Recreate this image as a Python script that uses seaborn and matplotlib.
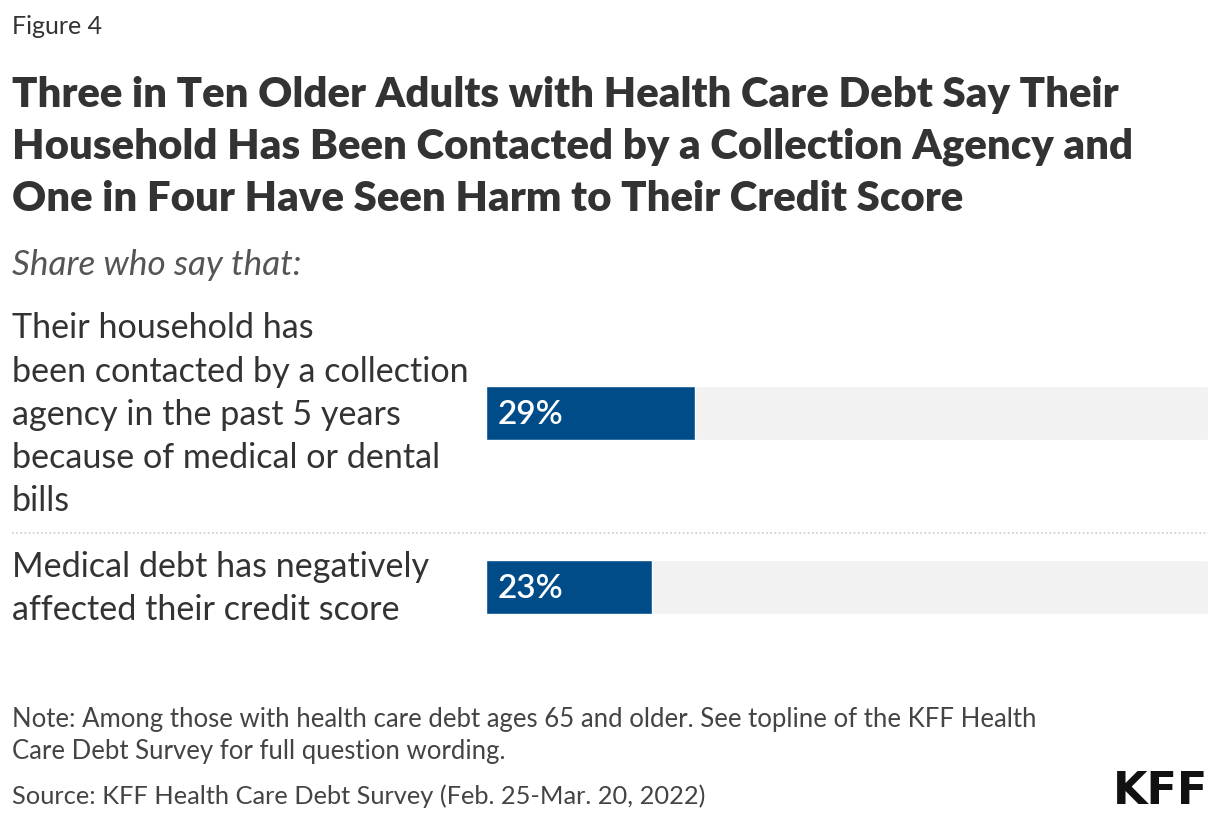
import matplotlib
matplotlib.use("Agg")
import matplotlib.pyplot as plt
import matplotlib.transforms as mtransforms
import pandas as pd
import seaborn as sns

# data
categories = [
    "Their household has\nbeen contacted by a collection\nagency in the past 5 years\nbecause of medical or dental\nbills",
    "Medical debt has negatively\naffected their credit score",
]
values = [29, 23]
value_labels = ["29%", "23%"]

title = ("Three in Ten Older Adults with Health Care Debt Say Their\n"
         "Household Has Been Contacted by a Collection Agency and\n"
         "One in Four Have Seen Harm to Their Credit Score")
subtitle = "Share who say that:"
note = ("Note: Among those with health care debt ages 65 and older. See topline of the KFF Health\n"
        "Care Debt Survey for full question wording.")
source = "Source: KFF Health Care Debt Survey (Feb. 25-Mar. 20, 2022)"

sns.set_style("white")
plt.rcParams["font.family"] = ["Lato", "DejaVu Sans"]

df = pd.DataFrame({"cat": categories, "val": values, "full": [100] * len(values)})

W, H = 1220, 824
fig = plt.figure(figsize=(W / 100, H / 100), dpi=100)

ax = fig.add_axes([486 / W, 1 - 674 / H, (1208 - 486) / W, 348 / H])
sns.barplot(data=df, y="cat", x="full", color="#f2f2f2", width=0.31,
            saturation=1, ax=ax, orient="h")
sns.barplot(data=df, y="cat", x="val", color="#004c89", width=0.31,
            saturation=1, ax=ax, orient="h")
ax.set_xlim(0, 100)
ax.set_ylim(1.5, -0.5)
ax.axis("off")

for i, lab in enumerate(value_labels):
    ax.text(1.6, i + 0.01, lab, color="white", fontsize=24, fontweight="semibold",
            va="center", ha="left")

trans = mtransforms.blended_transform_factory(fig.transFigure, ax.transData)
for i, cat in enumerate(categories):
    ax.text(12 / W, i + 0.01, cat, transform=trans, fontsize=24.6, color="#333333",
            va="center", ha="left", linespacing=1.43, clip_on=False)

# dotted separator
fig.add_artist(plt.Line2D([12 / W, 1208 / W], [1 - 533 / H] * 2, color="#cccccc",
                          lw=1.2, linestyle=(0, (1, 1.5))))

fig.text(12 / W, 1 - 27 / H, "Figure 4", fontsize=18, color="#333333", va="center")
fig.text(12 / W, 1 - 147 / H, title, fontsize=30.2, fontweight="heavy", color="#333333",
         va="center", linespacing=1.45)
fig.text(12 / W, 1 - 265 / H, subtitle, fontsize=25.3, fontstyle="italic", color="#555555",
         va="center")
fig.text(12 / W, 1 - 736 / H, note, fontsize=18.5, color="#444444", va="center",
         linespacing=1.35)
fig.text(12 / W, 1 - 796 / H, source, fontsize=18.3, color="#444444", va="center")
fig.text(1208 / W, 1 - 791 / H, "KFF", fontsize=32, fontweight="bold", color="#111111",
         va="center", ha="right", family="DejaVu Sans")

fig.savefig("out.png", dpi=100)
